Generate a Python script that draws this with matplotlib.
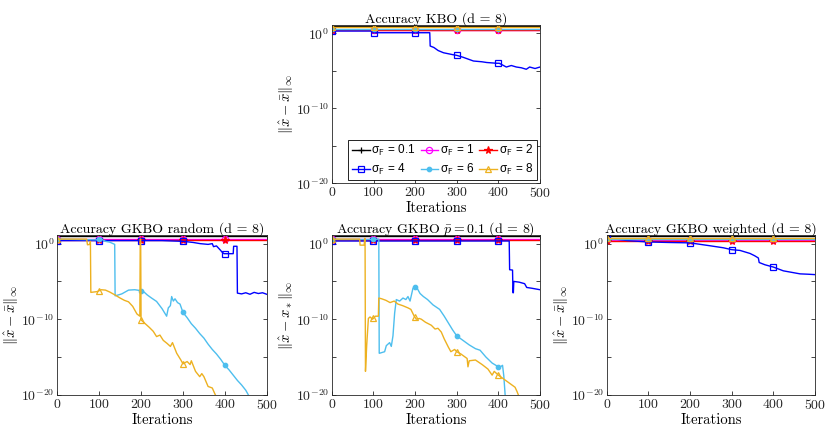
import numpy as np
import matplotlib
matplotlib.use('Agg')
import matplotlib.pyplot as plt
from matplotlib.lines import Line2D
from matplotlib.ticker import NullLocator

plt.rcParams['mathtext.fontset'] = 'cm'
plt.rcParams['font.family'] = 'cmr10'
plt.rcParams['axes.formatter.use_mathtext'] = True

# sigma_F values of the six runs (legend order)
sigmas = ['0.1', '1', '2', '4', '6', '8']

# ---- data: iterations and log10 of the error ----
# KBO
kbo_flat = [0.9, 0.45, 0.45, None, 0.5, 0.85]
kbo_it4 = [0, 98, 99, 235, 236, 245, 255, 268, 290, 300, 315, 330, 340, 360, 372,
           396, 402, 419, 431, 443, 455, 467, 475, 488, 500]
kbo_lg4 = [0.3, 0.3, 0.07, 0.07, -1.7, -1.9, -2.3, -2.6, -2.85, -2.95, -3.2, -3.5,
           -3.7, -3.8, -3.9, -4.0, -4.0, -4.5, -4.3, -4.5, -4.6, -4.8, -4.5, -4.7, -4.5]

# GKBO random
rnd_flat = [0.98, 0.55, 0.45, None, None, None]
rnd_it4 = [0, 250, 301, 325, 341, 360, 370, 373, 380, 385, 390, 393, 398, 420, 421,
           429, 430, 440, 450, 460, 470, 480, 490, 500]
rnd_lg4 = [0.4, 0.4, 0.3, 0.15, 0.0, -0.1, 0.0, -0.4, -0.3, -0.6, -0.9, -1.1, -1.33,
           -1.33, -0.35, -0.35, -6.55, -6.65, -6.5, -6.7, -6.45, -6.6, -6.5, -6.7]
rnd_it6 = [0, 95, 105, 115, 125, 137, 138, 145, 154, 162, 170, 185, 197, 205, 215, 225,
           237, 250, 261, 265, 270, 273, 277, 281, 287, 293, 300, 310, 320, 330, 340,
           350, 360, 370, 380, 390, 400, 410, 420, 430, 440, 450, 462]
rnd_lg6 = [0.6, 0.5, 0.6, 0.3, 0.2, -0.1, -6.9, -6.8, -6.65, -6.4, -6.15, -6.1, -6.2,
           -6.3, -6.8, -7.2, -7.65, -8.6, -9.6, -8.5, -8.2, -7.0, -7.6, -7.3, -7.8, -8.0,
           -9.1, -9.8, -10.6, -11.2, -11.9, -12.5, -13.3, -14.0, -14.6, -15.3, -16.1,
           -16.7, -17.4, -18.1, -18.7, -19.4, -20.6]
rnd_it8 = [0, 70, 72, 78, 79, 80, 95, 105, 115, 125, 138, 150, 160, 170, 180, 190, 197,
           198, 199, 200, 210, 220, 229, 237, 245, 253, 262, 270, 275, 285, 295, 300,
           310, 317, 320, 330, 340, 345, 350, 360, 370, 382]
rnd_lg8 = [0.6, 0.6, -0.15, -0.1, 0.3, -6.45, -6.35, -6.1, -6.15, -6.4, -6.8, -7.2, -7.5,
           -7.7, -8.3, -9.3, -9.6, 0.6, 0.6, -10.1, -10.6, -11.1, -11.6, -12.3, -12.1,
           -12.8, -13.2, -13.6, -13.1, -14.5, -15.4, -15.9, -15.6, -16.0, -15.5, -16.9,
           -17.6, -17.2, -17.6, -18.9, -19.1, -20.6]

# GKBO p = 0.1
pb_flat = [0.98, 0.55, 0.5, None, None, None]
pb_it4 = [0, 426, 427, 434, 435, 436, 437, 450, 463, 468, 480, 490, 500]
pb_lg4 = [0.35, 0.35, -3.45, -3.5, -6.5, -6.5, -5.0, -5.1, -5.3, -5.8, -5.9, -6.0, -6.1]
pb_it6 = [0, 100, 113, 114, 115, 127, 131, 139, 143, 147, 151, 155, 163, 171, 178, 183,
          188, 195, 200, 205, 212, 220, 230, 243, 259, 270, 280, 290, 300, 315, 330, 345,
          356, 370, 385, 400, 405, 410, 413, 417]
pb_lg6 = [0.55, 0.55, 0.6, -14.5, -14.5, -14.3, -13.5, -13.1, -13.6, -12.2, -9.2, -7.4,
          -7.6, -7.2, -7.4, -7.0, -7.6, -5.9, -5.8, -5.9, -6.6, -7.0, -7.4, -8.1, -8.7,
          -9.6, -10.5, -11.4, -12.2, -12.8, -13.4, -13.9, -14.1, -15.0, -15.8, -16.3,
          -16.3, -16.1, -17.5, -20.6]
pb_it8 = [0, 67, 68, 78, 79, 80, 81, 84, 88, 92, 98, 105, 112, 113, 120, 130, 140, 150,
          159, 170, 183, 190, 198, 203, 210, 215, 225, 239, 248, 255, 263, 270, 280, 286,
          295, 300, 310, 325, 327, 330, 345, 361, 375, 385, 390, 400, 410, 420, 430, 440,
          445, 452]
pb_lg8 = [0.6, 0.6, -0.2, -0.2, 0.7, 0.7, -16.9, -13.4, -9.9, -9.7, -10.0, -9.6, -9.6,
          -7.2, -7.3, -7.5, -7.8, -7.6, -8.0, -8.2, -8.5, -8.7, -9.6, -10.0, -9.9, -10.0,
          -10.4, -10.8, -11.3, -11.2, -11.7, -12.6, -13.7, -14.3, -14.0, -14.3, -14.6,
          -15.2, -16.3, -15.5, -15.4, -16.0, -16.6, -17.4, -16.9, -17.4, -17.8, -18.2,
          -18.6, -19.0, -19.6, -20.6]

# GKBO weighted
wt_flat = [0.95, 0.5, 0.3, None, 0.6, 0.8]
wt_it4 = [0, 20, 50, 100, 150, 200, 250, 280, 300, 320, 344, 355, 364, 366, 380, 400,
          424, 444, 464, 484, 500]
wt_lg4 = [0.75, 0.6, 0.4, 0.22, 0.15, 0.1, -0.3, -0.55, -0.8, -0.9, -1.3, -1.6, -1.9,
          -2.5, -2.8, -3.1, -3.6, -3.8, -4.0, -4.05, -4.1]

colors = ['black', '#ff00ff', '#ff0000', '#0000ff', '#4dbeee', '#edb120']
markers = ['+', 'o', '*', 's', 'o', '^']
msizes = [5, 4.5, 5.5, 4.5, 3.2, 5]
mfaces = ['black', 'none', '#ff0000', 'none', '#4dbeee', 'none']
mark_its = [0, 100, 200, 300, 400]


def build(flat, curves):
    series = []
    for k in range(6):
        if flat[k] is not None:
            series.append(([0, 500], [flat[k], flat[k]]))
        else:
            series.append(curves[k])
    return series


def draw(ax, series, title, ylabel):
    for k, (its, lg) in enumerate(series):
        ax.semilogy(its, 10.0 ** np.asarray(lg), color=colors[k], lw=1.0)
        ym = 10.0 ** np.interp(mark_its, its, lg)
        ax.semilogy(mark_its, ym, ls='none', marker=markers[k], ms=msizes[k],
                    mfc=mfaces[k], mec=colors[k], mew=0.9)
    ax.set_xlim(0, 500)
    ax.set_ylim(1e-20, 10 ** 1.1)
    ax.set_xticks(range(0, 501, 100))
    ax.set_yticks([1e0, 1e-5, 1e-10, 1e-15, 1e-20])
    ax.set_yticklabels(['$10^{0}$', '', '$10^{-10}$', '', '$10^{-20}$'])
    ax.yaxis.set_minor_locator(NullLocator())
    ax.tick_params(direction='in', top=True, right=True, length=3, width=0.6,
                   labelsize=10, pad=2, colors='#262626')
    for s in ax.spines.values():
        s.set_linewidth(0.6)
        s.set_color('#262626')
    ax.set_title(title, fontsize=10, pad=2)
    ax.set_xlabel('Iterations', fontsize=10.5, labelpad=1)
    ax.set_ylabel(ylabel, fontsize=10.5, labelpad=0)


fig = plt.figure(figsize=(8.26, 4.28), dpi=100)
ax_top = fig.add_axes([0.4019, 0.5717, 0.2519, 0.3699])
ax_rnd = fig.add_axes([0.0694, 0.0776, 0.2535, 0.3726])
ax_pb = fig.add_axes([0.4016, 0.0776, 0.2522, 0.3726])
ax_wt = fig.add_axes([0.7345, 0.0776, 0.2522, 0.3726])

ylab = r'$\|\hat{x}-\bar{x}\|_\infty$'
draw(ax_top, build(kbo_flat, {3: (kbo_it4, kbo_lg4)}), 'Accuracy KBO (d = 8)', ylab)
draw(ax_rnd, build(rnd_flat, {3: (rnd_it4, rnd_lg4), 4: (rnd_it6, rnd_lg6),
                              5: (rnd_it8, rnd_lg8)}),
     'Accuracy GKBO random (d = 8)', ylab)
draw(ax_pb, build(pb_flat, {3: (pb_it4, pb_lg4), 4: (pb_it6, pb_lg6),
                            5: (pb_it8, pb_lg8)}),
     r'Accuracy GKBO $\bar{p} = 0.1$ (d = 8)', r'$\|\hat{x}-x_*\|_\infty$')
draw(ax_wt, build(wt_flat, {3: (wt_it4, wt_lg4)}), 'Accuracy GKBO weighted (d = 8)', ylab)

# legend filled row by row (matplotlib fills columns first)
order = [0, 3, 1, 4, 2, 5]
handles = [Line2D([], [], color=colors[k], lw=1.0, marker=markers[k], ms=msizes[k],
                  mfc=mfaces[k], mec=colors[k], mew=0.9) for k in order]
labels = ['σ$_{\\mathsf{F}}$ = ' + sigmas[k] for k in order]
leg = ax_top.legend(handles, labels, loc='lower right', ncol=3, fancybox=False,
                    framealpha=1, edgecolor='black', borderaxespad=0.25,
                    prop={'family': 'Liberation Sans', 'size': 8.5},
                    handlelength=1.5, handletextpad=0.15, columnspacing=0.4,
                    labelspacing=0.3, borderpad=0.3)
leg.get_frame().set_linewidth(0.6)

fig.savefig('out.png', dpi=100)
